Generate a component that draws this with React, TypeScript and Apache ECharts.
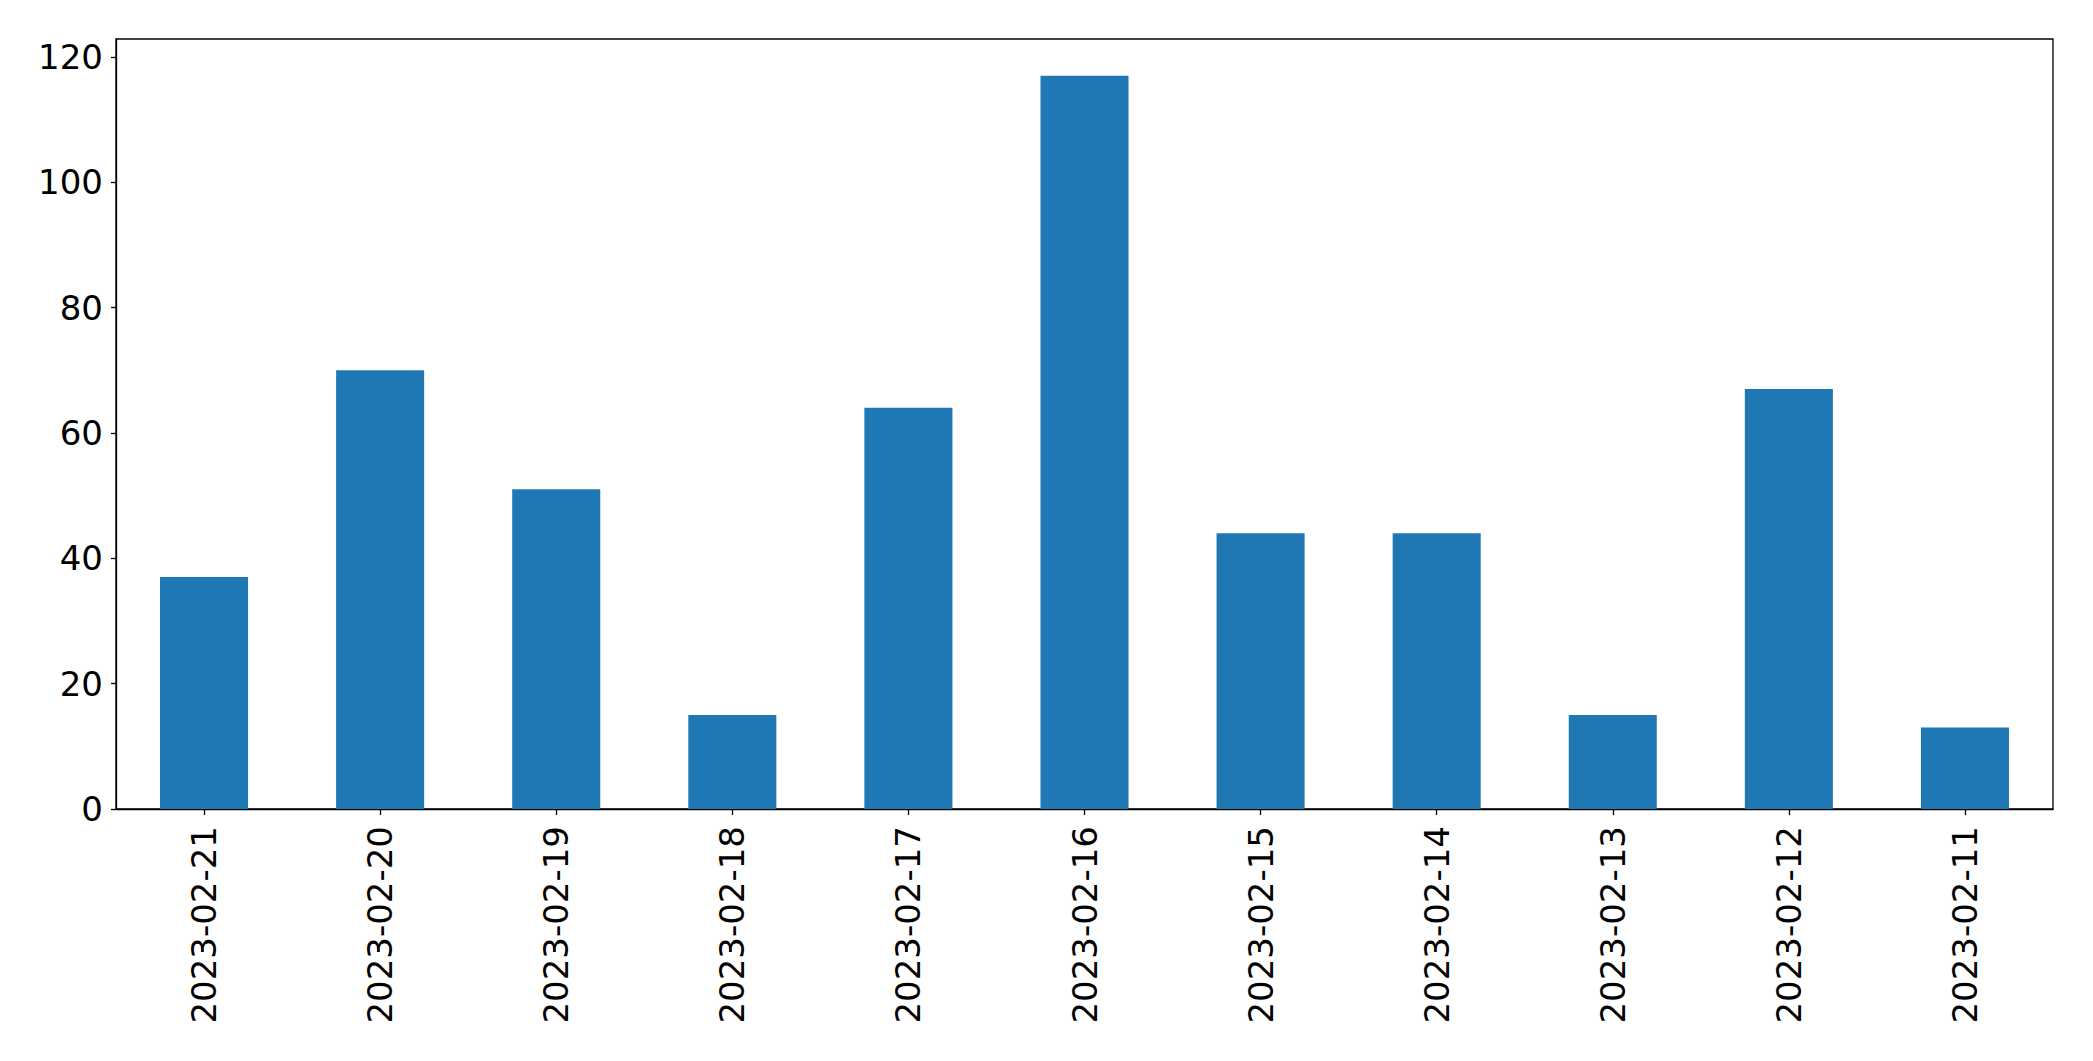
import React, { useEffect, useRef } from "react";
import * as echarts from "echarts";

const categories = [
  "2023-02-21", "2023-02-20", "2023-02-19", "2023-02-18", "2023-02-17", "2023-02-16",
  "2023-02-15", "2023-02-14", "2023-02-13", "2023-02-12", "2023-02-11",
];
const values = [37, 70, 51, 15, 64, 117, 44, 44, 15, 67, 13];
const yMax = 122.85;
const yInterval = 20;

export default function App() {
  const ref = useRef<HTMLDivElement>(null);
  useEffect(() => {
    if (!ref.current) return;
    const chart = echarts.init(ref.current, undefined, { renderer: "svg" });
    const font = "DejaVu Sans";
    chart.setOption({
      animation: false,
      backgroundColor: "#ffffff",
      grid: {
        left: 116,
        top: 39,
        width: 1937,
        height: 770,
        show: true,
        borderColor: "#000",
        borderWidth: 1.3,
        backgroundColor: "transparent",
        containLabel: false,
      },
      xAxis: {
        type: "category",
        data: categories,
        axisLine: { show: true, lineStyle: { color: "#000", width: 1.3 } },
        axisTick: { show: true, alignWithLabel: true, length: 6, lineStyle: { color: "#000", width: 1.3 } },
        axisLabel: {
          rotate: 90,
          margin: 17,
          color: "#000",
          fontSize: 34,
          fontFamily: font,
          interval: 0,
        },
        splitLine: { show: false },
      },
      yAxis: {
        type: "value",
        min: 0,
        max: yMax,
        interval: yInterval,
        axisLine: { show: true, lineStyle: { color: "#000", width: 1.3 } },
        axisTick: { show: true, length: 5, lineStyle: { color: "#000", width: 1.3 } },
        axisLabel: {
          margin: 13,
          color: "#000",
          fontSize: 34,
          fontFamily: font,
          showMaxLabel: false,
        },
        splitLine: { show: false },
      },
      series: [
        {
          type: "bar",
          data: values,
          barWidth: "50%",
          itemStyle: { color: "#1f77b4" },
        },
      ],
    });
    return () => chart.dispose();
  }, []);
  return (
    <div
      ref={ref}
      style={{ position: "fixed", left: 0, top: 0, width: 2093, height: 1061, background: "#fff" }}
    />
  );
}
